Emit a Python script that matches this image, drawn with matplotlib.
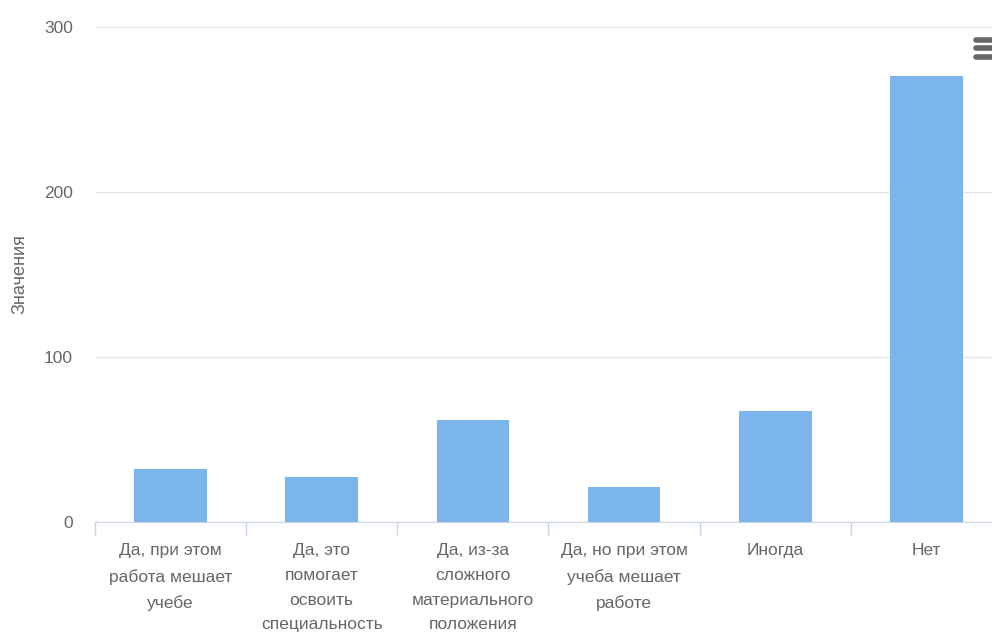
import numpy as np
import matplotlib.pyplot as plt
from matplotlib.lines import Line2D

# данные
categories = ["Да, при этом\nработа мешает\nучебе",
              "Да, это\nпомогает\nосвоить\nспециальность",
              "Да, из-за\nсложного\nматериального\nположения",
              "Да, но при этом\nучеба мешает\nработе",
              "Иногда",
              "Нет"]
values = [32, 27, 62, 21, 67, 270]
yticks = [0, 100, 200, 300]

plt.rcParams['font.family'] = ['Liberation Sans Narrow', 'Liberation Sans', 'DejaVu Sans']

W, H = 992, 639
fig = plt.figure(figsize=(W / 100, H / 100), dpi=100)
ax = fig.add_axes([95 / W, (H - 522) / H, (1002 - 95) / W, (522 - 27) / H])

x = np.arange(len(values))
ax.bar(x, values, width=0.48, color="#7cb5ec", zorder=3)

ax.set_xlim(-0.5, len(values) - 0.5)
ax.set_ylim(0, 300)
ax.set_yticks(yticks)
ax.set_yticklabels([str(v) for v in yticks], fontsize=12.5, color="#666666")
ax.tick_params(axis="y", length=0, pad=16)
ax.grid(axis="y", color="#e6e6e6", linewidth=1, zorder=0)

# категории
ax.set_xticks(np.arange(-0.5, len(values) + 0.5, 1.0))
ax.set_xticklabels([])
ax.tick_params(axis="x", length=10, color="#ccd6eb", width=1)
for i, lab in enumerate(categories):
    ax.text(i, -13, lab, ha="center", va="top", fontsize=12.5, color="#666666",
            linespacing=1.8)

for s in ["top", "right", "left"]:
    ax.spines[s].set_visible(False)
ax.spines["bottom"].set_color("#ccd6eb")
ax.spines["bottom"].set_zorder(4)

ax.set_ylabel("Значения", fontsize=13, color="#666666", labelpad=11)

# иконка меню
for yy in [40, 48, 57]:
    fig.add_artist(Line2D([976 / W, 1.0], [1 - yy / H, 1 - yy / H],
                          color="#666666", linewidth=4, solid_capstyle="round"))

fig.savefig("out.png", dpi=100)
